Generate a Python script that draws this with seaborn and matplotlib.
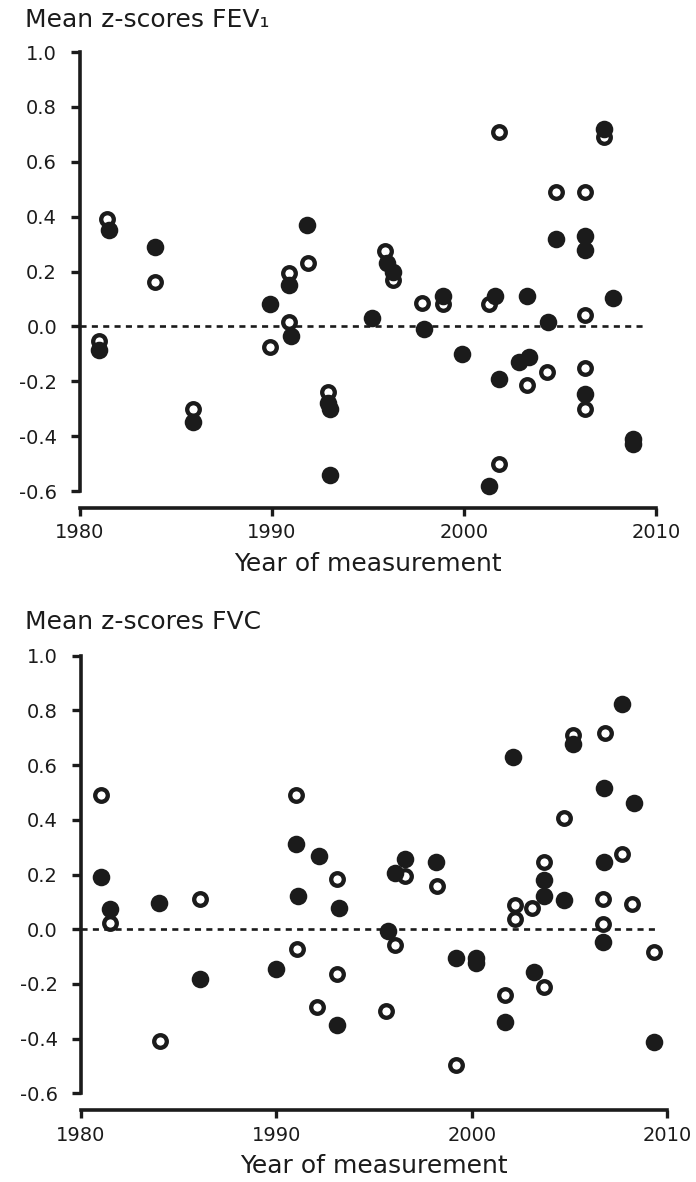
import pandas as pd
import seaborn as sns
from matplotlib import pyplot as plt

# FEV1 panel (top)
fev_filled_year = [1981.0, 1981.5, 1983.9, 1985.9, 1989.9, 1990.9, 1991.0, 1991.8, 1992.9, 1993.0,
                   1993.0, 1995.2, 1996.0, 1996.3, 1997.9, 1998.9, 1999.9, 2001.3, 2001.6, 2001.8,
                   2002.85, 2003.3, 2003.4, 2004.4, 2004.8, 2006.3, 2006.3, 2006.3, 2007.3, 2007.75,
                   2008.8, 2008.8]
fev_filled_z = [-0.085, 0.35, 0.29, -0.35, 0.08, 0.15, -0.035, 0.37, -0.28, -0.30,
                -0.54, 0.03, 0.23, 0.20, -0.01, 0.11, -0.10, -0.58, 0.11, -0.19,
                -0.13, 0.11, -0.11, 0.015, 0.32, 0.33, 0.28, -0.245, 0.72, 0.105,
                -0.41, -0.43]
fev_open_year = [1981.0, 1981.4, 1983.9, 1985.9, 1989.9, 1990.9, 1990.9, 1991.9, 1992.9, 1995.9,
                 1996.3, 1997.8, 1998.9, 2001.3, 2001.8, 2001.8, 2003.3, 2004.3, 2004.8, 2006.3,
                 2006.3, 2006.3, 2006.3, 2007.3]
fev_open_z = [-0.055, 0.39, 0.16, -0.30, -0.075, 0.195, 0.015, 0.23, -0.24, 0.275,
              0.17, 0.085, 0.08, 0.08, 0.71, -0.50, -0.215, -0.165, 0.49, 0.49,
              0.04, -0.15, -0.30, 0.69]

# FVC panel (bottom)
fvc_filled_year = [1981.05, 1981.5, 1984.0, 1986.1, 1990.0, 1991.0, 1991.1, 1992.2, 1993.2, 1993.1,
                   1995.7, 1996.1, 1996.6, 1998.15, 1999.2, 2000.2, 2000.2, 2001.7, 2002.1, 2003.2,
                   2003.7, 2003.7, 2004.7, 2005.2, 2006.75, 2006.75, 2006.7, 2007.7, 2008.3, 2009.3]
fvc_filled_z = [0.19, 0.073, 0.094, -0.183, -0.146, 0.313, 0.122, 0.268, 0.079, -0.35,
                -0.006, 0.207, 0.256, 0.246, -0.106, -0.104, -0.122, -0.339, 0.631, -0.158,
                0.18, 0.122, 0.107, 0.676, 0.518, 0.244, -0.046, 0.825, 0.463, -0.414]
fvc_open_year = [1981.05, 1981.5, 1984.05, 1986.1, 1991.0, 1991.05, 1992.1, 1993.1, 1993.1, 1995.6,
                 1996.1, 1996.6, 1998.2, 1999.2, 2001.7, 2002.2, 2002.2, 2003.1, 2003.7, 2003.7,
                 2004.7, 2005.2, 2006.8, 2006.7, 2006.7, 2007.7, 2008.2, 2009.3]
fvc_open_z = [0.49, 0.024, -0.408, 0.112, 0.49, -0.071, -0.284, 0.185, -0.165, -0.299,
              -0.058, 0.195, 0.158, -0.497, -0.241, 0.088, 0.037, 0.079, 0.244, -0.211,
              0.405, 0.71, 0.717, 0.11, 0.018, 0.274, 0.091, -0.085]

y_ticks = [-0.6, -0.4, -0.2, 0.0, 0.2, 0.4, 0.6, 0.8, 1.0]
x_ticks = [1980, 1990, 2000, 2010]

sns.set_style("ticks")
plt.rcParams['font.family'] = ['DejaVu Sans']
ink = "#1b1b1b"

fig = plt.figure(figsize=(6.96, 11.82), dpi=100)
ax_top = fig.add_axes([0.1149, 0.5846, 0.8276, 0.3714])
ax_bot = fig.add_axes([0.1157, 0.0750, 0.8431, 0.3703])

panels = [
    (ax_top, fev_filled_year, fev_filled_z, fev_open_year, fev_open_z, "Mean z-scores FEV\u2081", 0.9772),
    (ax_bot, fvc_filled_year, fvc_filled_z, fvc_open_year, fvc_open_z, "Mean z-scores FVC", 0.4679),
]

for ax, fy, fz, oy, oz, title, ty in panels:
    ax.axhline(0, xmin=0, xmax=0.985, color=ink, lw=1.9, ls=(0, (2.3, 2.0)), zorder=1)
    open_df = pd.DataFrame({"year": oy, "z": oz})
    filled_df = pd.DataFrame({"year": fy, "z": fz})
    sns.scatterplot(data=open_df, x="year", y="z", ax=ax, s=82, color="white",
                    edgecolor=ink, linewidth=3.1, clip_on=False, zorder=3)
    sns.scatterplot(data=filled_df, x="year", y="z", ax=ax, s=160, color=ink,
                    linewidth=0, clip_on=False, zorder=4)

    ax.set_xlim(1980, 2010)
    ax.set_ylim(-0.6, 1.0)
    ax.set_xticks(x_ticks)
    ax.set_yticks(y_ticks)
    ax.set_yticklabels([f"{v:.1f}" for v in y_ticks])

    for side in ["top", "right"]:
        ax.spines[side].set_visible(False)
    ax.spines["left"].set_linewidth(2.6)
    ax.spines["bottom"].set_linewidth(2.6)
    ax.spines["left"].set_color(ink)
    ax.spines["bottom"].set_color(ink)
    ax.spines["bottom"].set_position(("outward", 12.2))
    ax.spines["left"].set_bounds(-0.6, 1.0)
    ax.spines["bottom"].set_bounds(1980, 2010)

    ax.tick_params(axis="y", direction="out", length=6.5, width=2.4, color=ink,
                   labelsize=14, pad=10, labelcolor=ink)
    ax.tick_params(axis="x", direction="out", length=6, width=2.4, color=ink,
                   labelsize=14, pad=5, labelcolor=ink)

    ax.set_xlabel("Year of measurement", fontsize=18, color=ink, labelpad=7)
    ax.set_ylabel("")
    fig.text(0.0359, ty, title, fontsize=18, color=ink, ha="left", va="baseline")

fig.savefig("out.png", dpi=100)
